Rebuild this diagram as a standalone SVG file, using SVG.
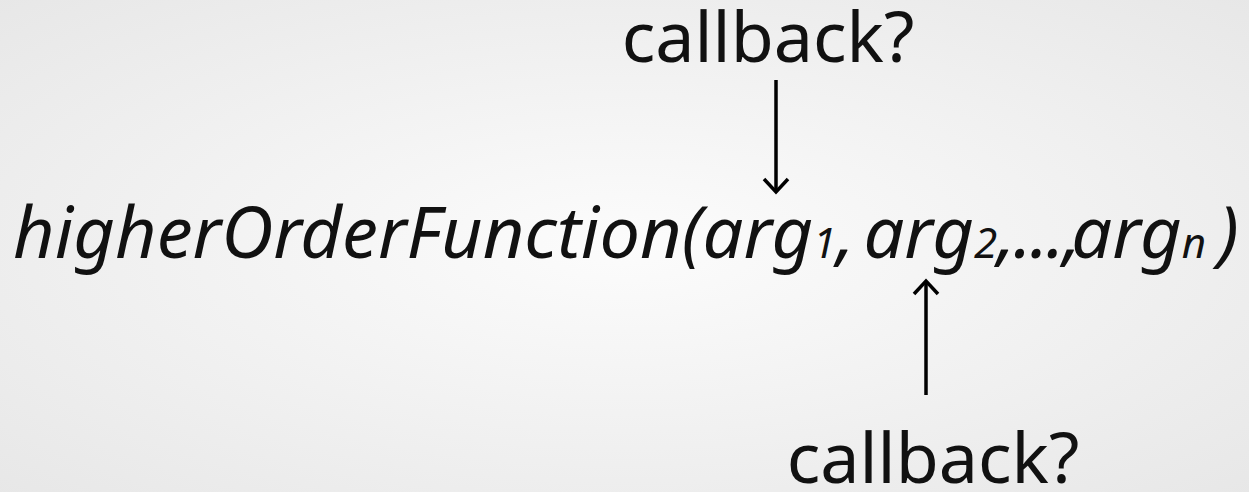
<svg xmlns="http://www.w3.org/2000/svg" width="1249" height="492" viewBox="0 0 1249 492">
  <defs>
    <radialGradient id="bg" cx="50%" cy="50%" r="75%">
      <stop offset="0" stop-color="#fcfcfc"/>
      <stop offset="1" stop-color="#e6e6e6"/>
    </radialGradient>
    <!-- open chevron arrowhead -->
    <marker id="chev" viewBox="-16 -16 32 32" refX="0" refY="0" markerWidth="32" markerHeight="32" markerUnits="userSpaceOnUse" orient="auto">
      <path d="M-13,-12 L0,0 L-13,12" fill="none" stroke="#000" stroke-width="3.5"/>
    </marker>
    <style>
      .lbl { font-family: "Noto Sans", "Open Sans", sans-serif; font-size: 70px; fill: #111; }
      .fn { font-family: "Noto Sans", "Open Sans", sans-serif; font-size: 72px; font-style: italic; fill: #111; }
      .sub { font-size: 42px; }
      .dots { letter-spacing: -2px; }
      .conn { stroke: #000; stroke-width: 3.5; fill: none; }
    </style>
  </defs>
  <rect width="1249" height="492" fill="url(#bg)"/>

  <g id="callback-top">
    <text class="lbl" x="768" y="62" text-anchor="middle">callback?</text>
  </g>

  <g id="call">
    <text class="fn" x="13" y="258">higherOrderFunction(arg<tspan class="sub">1</tspan>,<tspan dx="-10"> arg</tspan><tspan class="sub">2</tspan><tspan class="dots">,...,</tspan><tspan dx="-8">arg</tspan><tspan class="sub">n</tspan><tspan dx="12">)</tspan></text>
  </g>

  <g id="callback-bottom">
    <text class="lbl" x="933" y="483" text-anchor="middle">callback?</text>
  </g>

  <g id="connectors">
    <path class="conn" d="M776,80 V192" marker-end="url(#chev)"/>
    <path class="conn" d="M926,395 V281" marker-end="url(#chev)"/>
  </g>
</svg>
